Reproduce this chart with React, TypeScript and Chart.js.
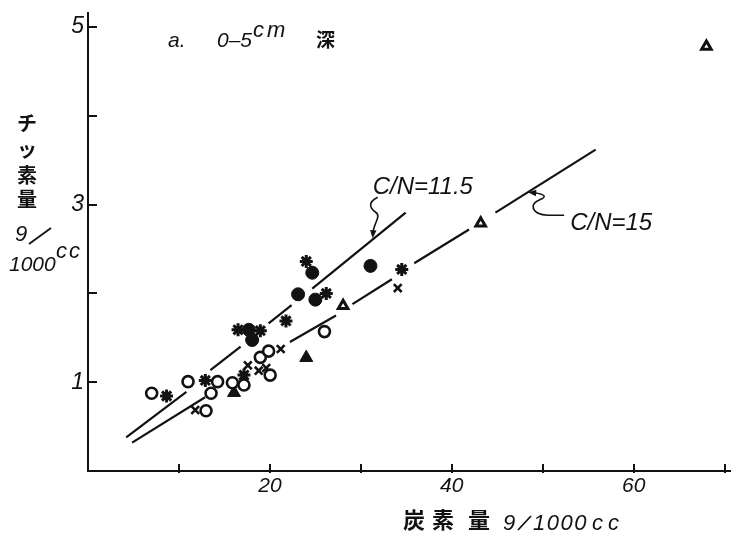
import { useEffect, useRef } from 'react';
import { Chart, registerables } from 'chart.js';

Chart.register(...registerables);

type Pt = [number, number];

// Carbon (g/1000cc) against nitrogen (g/1000cc), 0–5 cm layer
const openCircles: Pt[] = [
  [7.0, 0.875], [11.0, 1.006], [12.98, 0.679], [13.53, 0.875], [14.25, 1.006],
  [15.88, 0.994], [17.15, 0.968], [18.95, 1.28], [19.86, 1.35], [20.03, 1.08], [26.0, 1.57],
];
const filledCircles: Pt[] = [
  [17.69, 1.59], [18.05, 1.475], [23.1, 1.99], [24.66, 2.233], [25.0, 1.93], [31.06, 2.31],
];
const asterisks: Pt[] = [
  [8.64, 0.845], [12.9, 1.02], [16.5, 1.59], [17.15, 1.08], [18.95, 1.58],
  [21.77, 1.69], [24.0, 2.36], [26.2, 2.0], [34.5, 2.27],
];
const crosses: Pt[] = [
  [11.79, 0.687], [17.58, 1.19], [18.77, 1.13], [19.6, 1.16], [21.19, 1.374], [34.06, 2.06],
];
const openTriangles: Pt[] = [[28.05, 1.86], [43.18, 2.79], [68.0, 4.78]];
const filledTriangles: Pt[] = [[16.06, 0.882], [24.0, 1.276]];

// Reference lines, drawn as broken segments (null = break in the line)
const lineCN115: (Pt | null)[] = [
  [4.2, 0.38], [10.82, 0.89], null,
  [13.46, 1.137], [16.78, 1.4], null,
  [19.86, 1.663], [22.39, 1.869], null,
  [24.66, 2.053], [34.93, 2.91],
];
const lineCN15: (Pt | null)[] = [
  [4.85, 0.319], [12.88, 0.83], null,
  [22.2, 1.452], [27.27, 1.751], null,
  [29.08, 1.88], [33.42, 2.16], null,
  [35.87, 2.34], [41.9, 2.72], null,
  [44.8, 2.91], [55.82, 3.62],
];

// Where the two label arrows touch their lines
const arrowTipCN115: Pt = [31.3, 2.61];
const arrowTipCN15: Pt = [48.4, 3.14];

const xTickValues = [10, 20, 30, 40, 50, 60, 70];
const xTickLabels = ['', '20', '', '40', '', '60', ''];
const yTickValues = [1, 2, 3, 4, 5];
const yTickLabels = ['1', '', '3', '', '5'];

const X_MAX = 70.65;
const Y_MAX = 5.158;

const INK = '#121212';
const LATIN = '"Liberation Sans", "DejaVu Sans", sans-serif';
const CJK = '"Noto Sans CJK JP", sans-serif';

const toXY = (pts: Pt[]) => pts.map(([x, y]) => ({ x, y }));
const toSegments = (pts: (Pt | null)[]) =>
  pts.map((p, i) => {
    if (p) return { x: p[0], y: p[1] as number | null };
    const a = pts[i - 1] as Pt;
    const b = pts[i + 1] as Pt;
    return { x: (a[0] + b[0]) / 2, y: null };
  });

const pointSet = (
  label: string,
  pts: Pt[],
  style: string,
  radius: number,
  fill: string,
  borderWidth: number,
) => ({
  type: 'scatter' as const,
  label,
  data: toXY(pts),
  pointStyle: style,
  pointRadius: radius,
  pointBackgroundColor: fill,
  pointBorderColor: INK,
  pointBorderWidth: borderWidth,
  showLine: false,
  order: 0,
});

const lineSet = (label: string, pts: (Pt | null)[]) => ({
  type: 'line' as const,
  label,
  data: toSegments(pts),
  borderColor: INK,
  borderWidth: 2.2,
  pointRadius: 0,
  spanGaps: false,
  fill: false,
  tension: 0,
  order: 1,
});

function spaced(ctx: CanvasRenderingContext2D, text: string, x: number, y: number, gap: number) {
  let cx = x;
  for (const ch of text) {
    ctx.fillText(ch, cx, y);
    cx += ctx.measureText(ch).width + gap;
  }
}

function arrowHead(ctx: CanvasRenderingContext2D, tipX: number, tipY: number, angle: number) {
  const len = 8;
  const half = 3.2;
  ctx.save();
  ctx.translate(tipX, tipY);
  ctx.rotate(angle);
  ctx.beginPath();
  ctx.moveTo(0, 0);
  ctx.lineTo(-len, -half);
  ctx.lineTo(-len, half);
  ctx.closePath();
  ctx.fill();
  ctx.restore();
}

const annotations = {
  id: 'annotations',
  afterDraw(chart: any) {
    const { ctx, chartArea: a } = chart;
    const xs = chart.scales.x;
    const ys = chart.scales.y;
    ctx.save();
    ctx.strokeStyle = INK;
    ctx.fillStyle = INK;

    // inward tick marks
    ctx.lineWidth = 2;
    ctx.beginPath();
    xs.ticks.forEach((t: any) => {
      const px = Math.round(xs.getPixelForValue(t.value));
      ctx.moveTo(px, a.bottom + 2);
      ctx.lineTo(px, a.bottom - 7);
    });
    ys.ticks.forEach((t: any) => {
      const py = Math.round(ys.getPixelForValue(t.value));
      ctx.moveTo(a.left - 1, py);
      ctx.lineTo(a.left + 9, py);
    });
    ctx.stroke();

    // panel title
    ctx.textAlign = 'left';
    ctx.textBaseline = 'alphabetic';
    ctx.font = `italic 21px ${LATIN}`;
    ctx.fillText('a.', 168, 47);
    ctx.fillText('0–5', 217, 47);
    ctx.font = `italic 22px ${LATIN}`;
    spaced(ctx, 'cm', 253, 37, 3);
    ctx.font = `bold 19px ${CJK}`;
    ctx.fillText('深', 316, 47);

    // y-axis title: チッ素量 g/1000cc
    ctx.textAlign = 'center';
    ctx.textBaseline = 'middle';
    ctx.font = `bold 20px ${CJK}`;
    ctx.fillText('チ', 27, 123);
    ctx.fillText('ッ', 27, 149);
    ctx.fillText('素', 27, 175);
    ctx.fillText('量', 27, 199);
    ctx.textAlign = 'left';
    ctx.textBaseline = 'alphabetic';
    ctx.font = `italic 22px ${LATIN}`;
    ctx.fillText('9', 15, 241);
    ctx.lineWidth = 1.8;
    ctx.beginPath();
    ctx.moveTo(29, 244);
    ctx.lineTo(51, 228);
    ctx.stroke();
    ctx.font = `italic 21px ${LATIN}`;
    ctx.fillText('1000', 9, 271);
    ctx.font = `italic 22px ${LATIN}`;
    spaced(ctx, 'cc', 56, 258, 2);

    // x-axis title: 炭素量 g/1000cc
    ctx.textAlign = 'center';
    ctx.textBaseline = 'middle';
    ctx.font = `bold 22px ${CJK}`;
    ctx.fillText('炭', 414, 520);
    ctx.fillText('素', 443, 520);
    ctx.fillText('量', 479, 520);
    ctx.textAlign = 'left';
    ctx.textBaseline = 'alphabetic';
    ctx.font = `italic 22px ${LATIN}`;
    ctx.fillText('9', 503, 530);
    ctx.lineWidth = 1.8;
    ctx.beginPath();
    ctx.moveTo(518, 530);
    ctx.lineTo(531, 516);
    ctx.stroke();
    spaced(ctx, '1000', 533, 530, 1.5);
    ctx.font = `italic 22px ${LATIN}`;
    spaced(ctx, 'cc', 592, 530, 5);

    // C/N = 11.5 label with its wavy pointer
    const t1x = xs.getPixelForValue(arrowTipCN115[0]);
    const t1y = ys.getPixelForValue(arrowTipCN115[1]);
    ctx.font = `italic 24px ${LATIN}`;
    ctx.fillText('C/N=11.5', t1x, t1y - 45);
    ctx.lineWidth = 1.6;
    ctx.beginPath();
    ctx.moveTo(t1x + 5, t1y - 42);
    ctx.bezierCurveTo(t1x - 5, t1y - 37, t1x - 3, t1y - 31, t1x + 3, t1y - 27);
    ctx.bezierCurveTo(t1x + 9, t1y - 23, t1x + 1, t1y - 16, t1x + 0.5, t1y - 7);
    ctx.stroke();
    arrowHead(ctx, t1x, t1y - 1, Math.PI / 2 + 0.08);

    // C/N = 15 label with its wavy pointer
    const t2x = xs.getPixelForValue(arrowTipCN15[0]);
    const t2y = ys.getPixelForValue(arrowTipCN15[1]);
    ctx.font = `italic 24px ${LATIN}`;
    ctx.fillText('C/N=15', t2x + 42, t2y + 38);
    ctx.beginPath();
    ctx.moveTo(t2x + 36, t2y + 23);
    ctx.lineTo(t2x + 20, t2y + 23);
    ctx.bezierCurveTo(t2x + 12, t2y + 23, t2x + 5, t2y + 20, t2x + 5, t2y + 14);
    ctx.bezierCurveTo(t2x + 5, t2y + 8, t2x + 17, t2y + 7, t2x + 16, t2y + 4);
    ctx.bezierCurveTo(t2x + 15, t2y + 2, t2x + 10, t2y + 1, t2x + 6, t2y + 0.5);
    ctx.stroke();
    arrowHead(ctx, t2x, t2y, Math.PI + 0.1);

    ctx.restore();
  },
};

export default function App() {
  const canvasRef = useRef<HTMLCanvasElement | null>(null);

  useEffect(() => {
    const canvas = canvasRef.current;
    if (!canvas) return;

    const tickFont = { family: LATIN, style: 'italic' as const, size: 21 };

    const chart = new Chart(canvas, {
      type: 'scatter',
      data: {
        datasets: [
          pointSet('open circles', openCircles, 'circle', 5.5, '#ffffff', 2.6),
          pointSet('filled circles', filledCircles, 'circle', 6.5, INK, 1),
          pointSet('asterisks', asterisks, 'star', 6.5, INK, 3),
          pointSet('crosses', crosses, 'crossRot', 5.5, INK, 2.6),
          pointSet('open triangles', openTriangles, 'triangle', 5.5, '#ffffff', 3),
          pointSet('filled triangles', filledTriangles, 'triangle', 7.5, INK, 1),
          lineSet('C/N=11.5', lineCN115),
          lineSet('C/N=15', lineCN15),
        ] as any,
      },
      options: {
        responsive: false,
        animation: false,
        events: [],
        layout: { padding: { left: 0, right: 0, top: 13, bottom: 0 } },
        plugins: {
          legend: { display: false },
          tooltip: { enabled: false },
        },
        scales: {
          x: {
            type: 'linear',
            min: 0,
            max: X_MAX,
            afterBuildTicks: (scale: any) => {
              scale.ticks = xTickValues.map((v) => ({ value: v }));
            },
            afterFit: (scale: any) => {
              scale.height = 63;
              scale.paddingLeft = 0;
              scale.paddingRight = 0;
            },
            grid: { display: false, drawTicks: false, tickLength: 0 },
            border: { display: true, color: INK, width: 2 },
            ticks: {
              autoSkip: false,
              maxRotation: 0,
              padding: 3,
              color: INK,
              font: tickFont,
              callback: (v: any) => {
                const i = xTickValues.indexOf(Number(v));
                return i >= 0 ? xTickLabels[i] : '';
              },
            },
          },
          y: {
            type: 'linear',
            min: 0,
            max: Y_MAX,
            afterBuildTicks: (scale: any) => {
              scale.ticks = yTickValues.map((v) => ({ value: v }));
            },
            afterFit: (scale: any) => {
              scale.width = 88;
              scale.paddingTop = 0;
              scale.paddingBottom = 0;
            },
            grid: { display: false, drawTicks: false, tickLength: 0 },
            border: { display: true, color: INK, width: 2 },
            ticks: {
              autoSkip: false,
              padding: 4,
              color: INK,
              font: { ...tickFont, size: 23 },
              callback: (v: any) => {
                const i = yTickValues.indexOf(Number(v));
                return i >= 0 ? yTickLabels[i] : '';
              },
            },
          },
        },
      },
      plugins: [annotations],
    });

    return () => chart.destroy();
  }, []);

  return (
    <div style={{ position: 'absolute', left: 0, top: 0, width: 740, height: 534, background: '#ffffff' }}>
      <canvas ref={canvasRef} width={740} height={534} style={{ display: 'block' }} />
    </div>
  );
}
